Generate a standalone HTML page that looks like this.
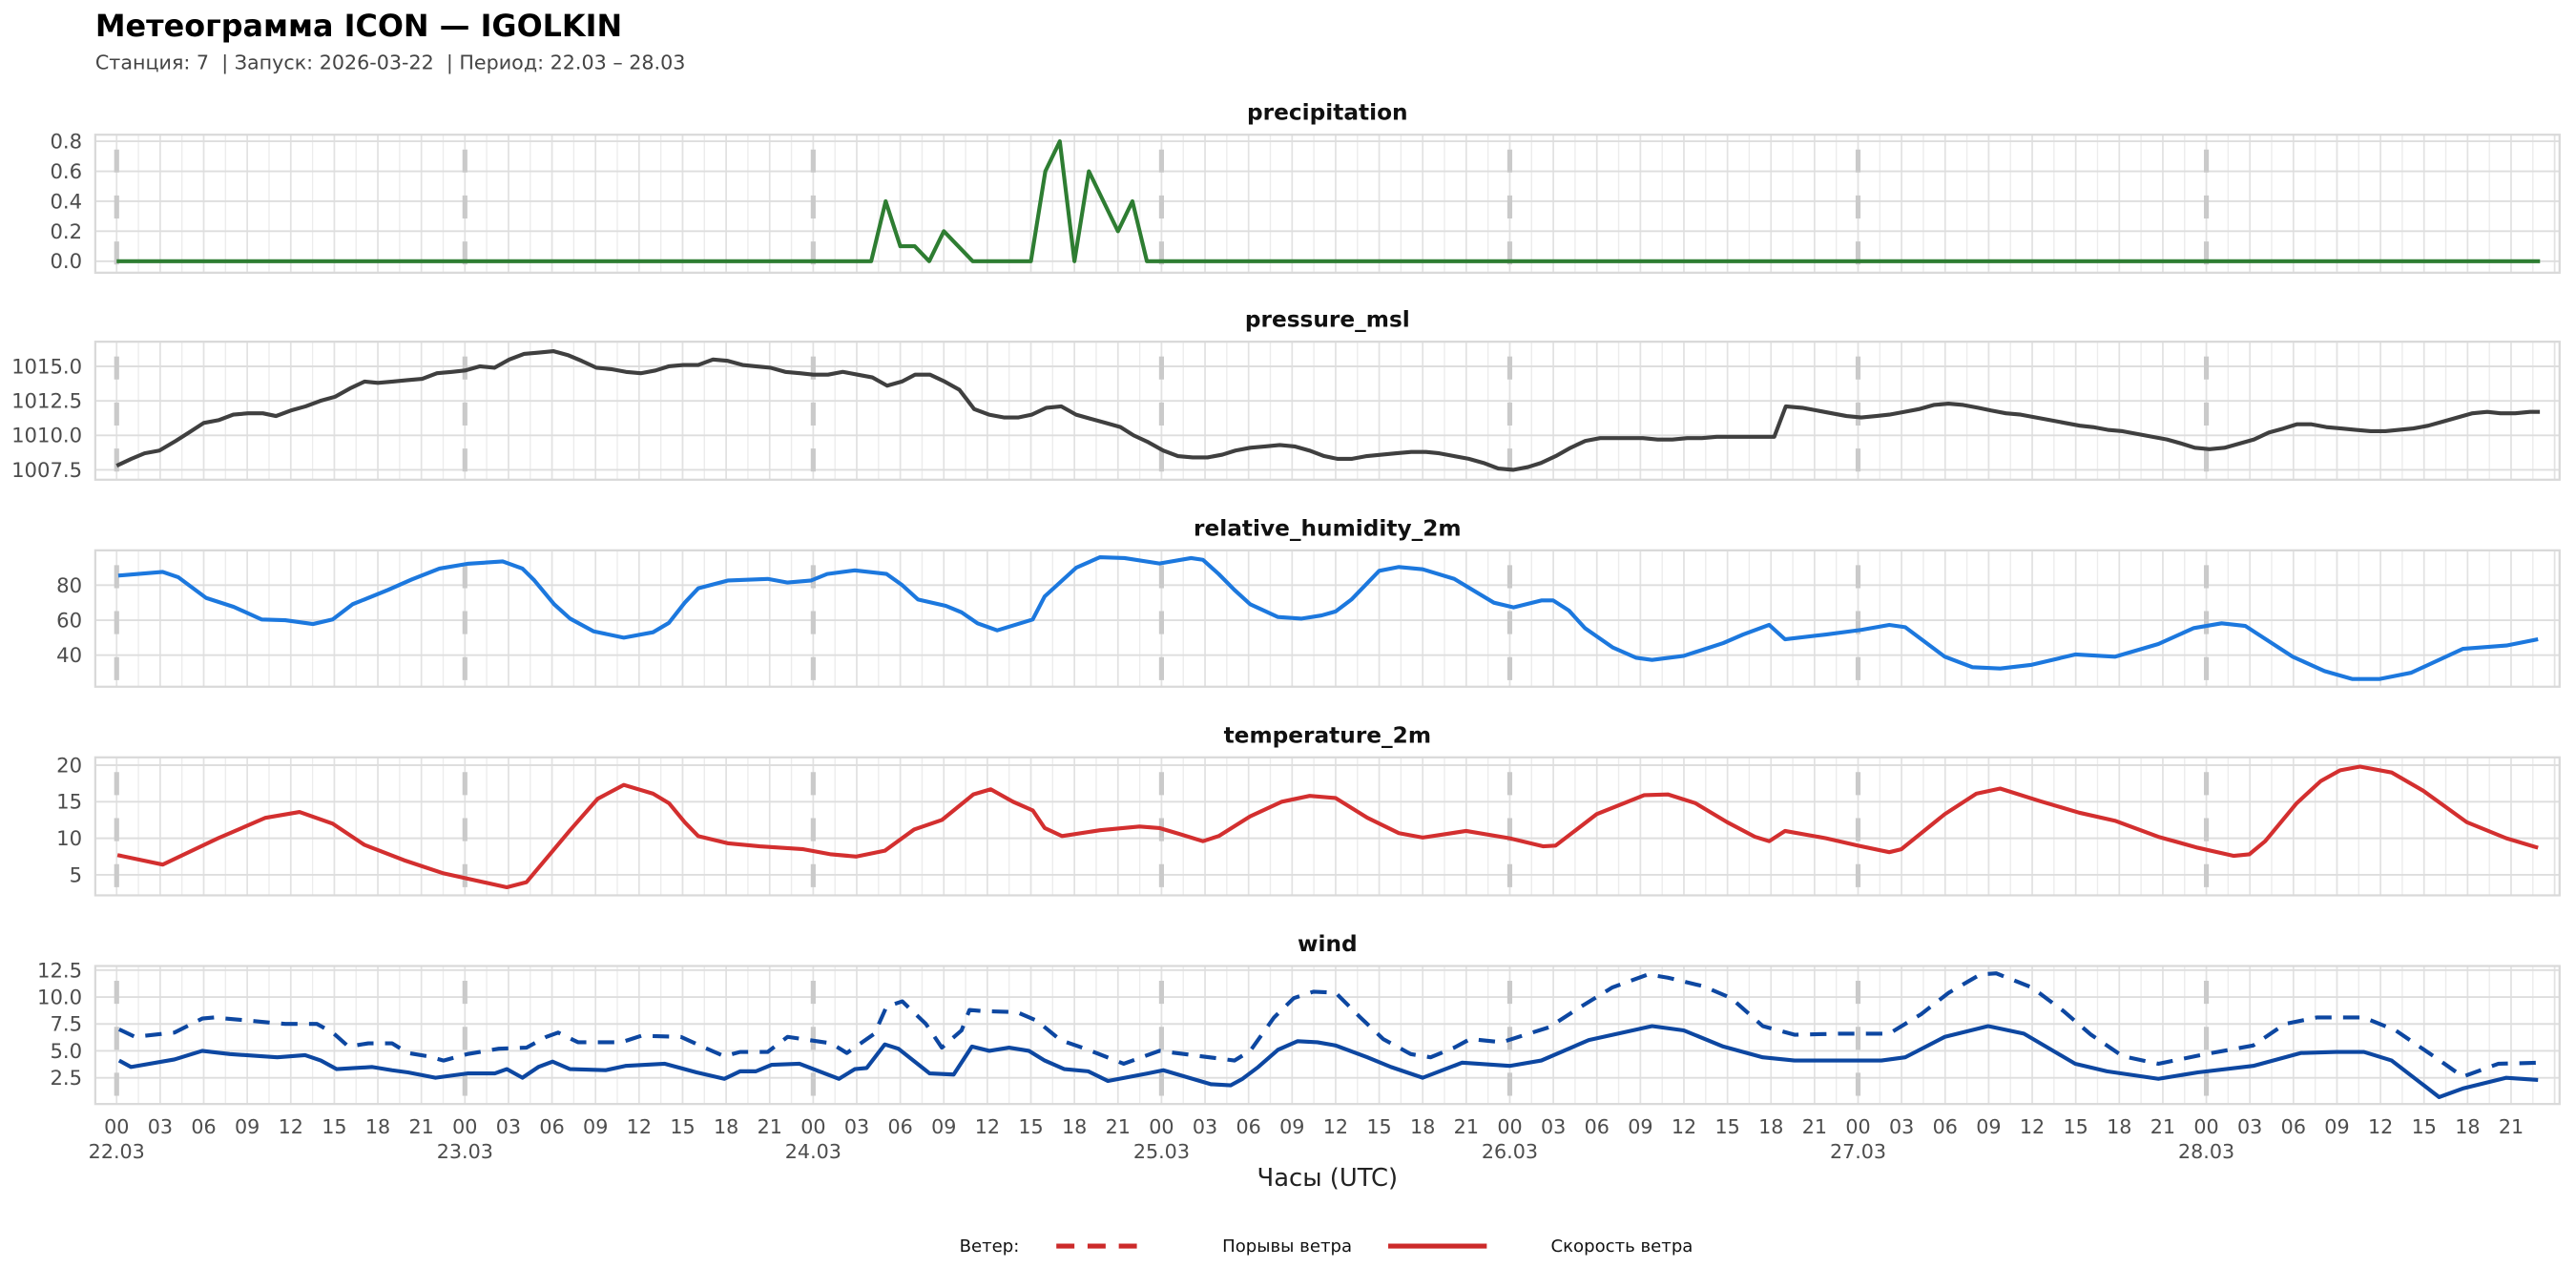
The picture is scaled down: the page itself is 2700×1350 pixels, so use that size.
<!DOCTYPE html>
<html><head><meta charset="utf-8">
<style>
html,body{margin:0;padding:0;background:#fff;}
svg{display:block;}
text{font-family:"DejaVu Sans","Liberation Sans",sans-serif;white-space:pre;}
</style></head>
<body>
<svg id="s" width="2700" height="1350" viewBox="0 0 1568 784" xmlns="http://www.w3.org/2000/svg">
<rect width="1568" height="784" fill="#fff"/>
<text x="58" y="22" font-size="18.5" font-weight="bold" fill="#000">Метеограмма ICON — IGOLKIN</text>
<text x="58" y="42" font-size="12" fill="#444" xml:space="preserve">Станция: 7  | Запуск: 2026-03-22  | Период: 22.03 – 28.03</text>
<g id="g"></g>
<text x="808" y="722" font-size="15" text-anchor="middle" fill="#222">Часы (UTC)</text>
<text x="584" y="762" font-size="10.5" fill="#111">Ветер:</text>
<line x1="643" y1="758.5" x2="700" y2="758.5" stroke="#cc2a2a" stroke-width="3" stroke-dasharray="11,8"/>
<text x="744" y="762" font-size="10.5" fill="#111">Порывы ветра</text>
<line x1="845" y1="758.5" x2="905" y2="758.5" stroke="#cc2a2a" stroke-width="3"/>
<text x="944" y="762" font-size="10.5" fill="#111">Скорость ветра</text>
</svg>
<script>
const NS="http://www.w3.org/2000/svg";
const g=document.getElementById('g');
function el(t,a,txt){const e=document.createElementNS(NS,t);for(const k in a)e.setAttribute(k,a[k]);if(txt!==undefined)e.textContent=txt;g.appendChild(e);return e;}
const L=58,R=1558,X0=71,DAY=212;
function panel(title,top,bot,fy,ticks,fmt,series){
  el('text',{x:808,y:top-9,'font-size':13.5,'font-weight':'bold','text-anchor':'middle',fill:'#111'},title);
  for(let x=X0-13.25;x<=R;x+=13.25){ if(x<L)continue; el('line',{x1:x,y1:top,x2:x,y2:bot,stroke:'#ececec','stroke-width':0.8});}
  for(let x=X0;x<=R;x+=26.5){el('line',{x1:x,y1:top,x2:x,y2:bot,stroke:'#e2e2e2','stroke-width':1});}
  ticks.forEach(v=>{const y=fy(v);el('line',{x1:L,y1:y,x2:R,y2:y,stroke:'#dedede','stroke-width':1.1});
    el('text',{x:50,y:y+4.3,'font-size':12.3,'text-anchor':'end',fill:'#4d4d4d'},fmt(v));});
  el('rect',{x:L,y:top,width:R-L,height:bot-top,fill:'none',stroke:'#d9d9d9','stroke-width':1.3});
  for(let d=0;d<7;d++){const x=X0+d*DAY;el('line',{x1:x,y1:top+9,x2:x,y2:bot,stroke:'#cacaca','stroke-width':3,'stroke-dasharray':'14,14'});}
  series.forEach(s=>{
    let d='';for(let i=0;i<s.p.length;i+=2){d+=(i?'L':'M')+s.p[i]+' '+fy(s.p[i+1]).toFixed(2)+' ';}
    const a={d:d,fill:'none',stroke:s.c,'stroke-width':2.4,'stroke-linejoin':'round'};
    if(s.dash)a['stroke-dasharray']=s.dash;
    el('path',a);
  });
}
function hx(h){return X0+h*8.833;}
let pr=[];
const pts=[[0,0],[52,0],[53,0.4],[54,0.1],[55,0.1],[56,0],[57,0.2],[59,0],[63,0],[64,0.6],[65,0.8],[66,0],[67,0.6],[69,0.2],[70,0.4],[71,0],[167,0]];
pts.forEach(p=>{pr.push(+hx(p[0]).toFixed(1),p[1]);});
panel('precipitation',82,166,v=>159-v*91.25,[0,0.2,0.4,0.6,0.8],v=>v.toFixed(1),[{c:'#2e7d32',p:pr}]);
const pres=[71,1007.8,80,1008.3,88,1008.7,97,1008.9,107,1009.6,115,1010.2,124,1010.9,133,1011.1,142,1011.5,151,1011.6,160,1011.6,168,1011.4,177,1011.8,186,1012.1,195,1012.5,204,1012.8,213,1013.4,222,1013.9,230,1013.8,239,1013.9,248,1014.0,257,1014.1,266,1014.5,275,1014.6,283,1014.7,292,1015.0,301,1014.9,310,1015.5,319,1015.9,328,1016.0,337,1016.1,346,1015.8,354,1015.4,363,1014.9,372,1014.8,381,1014.6,390,1014.5,399,1014.7,407,1015.0,416,1015.1,425,1015.1,434,1015.5,443,1015.4,452,1015.1,460,1015.0,469,1014.9,478,1014.6,487,1014.5,495,1014.4,504,1014.4,513,1014.6,522,1014.4,531,1014.2,540,1013.6,549,1013.9,557,1014.4,566,1014.4,575,1013.9,584,1013.3,593,1011.9,602,1011.5,611,1011.3,620,1011.3,628,1011.5,637,1012.0,646,1012.1,655,1011.5,664,1011.2,673,1010.9,682,1010.6,690,1010.0,699,1009.5,708,1008.9,717,1008.5,726,1008.4,735,1008.4,744,1008.6,752,1008.9,761,1009.1,770,1009.2,779,1009.3,788,1009.2,797,1008.9,806,1008.5,814,1008.3,823,1008.3,832,1008.5,841,1008.6,850,1008.7,859,1008.8,868,1008.8,876,1008.7,885,1008.5,894,1008.3,903,1008.0,912,1007.6,921,1007.5,930,1007.7,938,1008.0,947,1008.5,956,1009.1,965,1009.6,974,1009.8,983,1009.8,991,1009.8,1000,1009.8,1009,1009.7,1018,1009.7,1027,1009.8,1036,1009.8,1045,1009.9,1053,1009.9,1062,1009.9,1071,1009.9,1080,1009.9,1087,1012.1,1097,1012.0,1106,1011.8,1115,1011.6,1124,1011.4,1133,1011.3,1142,1011.4,1150,1011.5,1159,1011.7,1168,1011.9,1177,1012.2,1186,1012.3,1195,1012.2,1204,1012.0,1212,1011.8,1221,1011.6,1230,1011.5,1239,1011.3,1248,1011.1,1257,1010.9,1266,1010.7,1274,1010.6,1283,1010.4,1292,1010.3,1301,1010.1,1310,1009.9,1319,1009.7,1328,1009.4,1336,1009.1,1345,1009.0,1354,1009.1,1363,1009.4,1372,1009.7,1381,1010.2,1390,1010.5,1398,1010.8,1407,1010.8,1416,1010.6,1425,1010.5,1434,1010.4,1443,1010.3,1452,1010.3,1460,1010.4,1469,1010.5,1478,1010.7,1487,1011.0,1496,1011.3,1505,1011.6,1514,1011.7,1522,1011.6,1531,1011.6,1540,1011.7,1546,1011.7];
panel('pressure_msl',208,292,v=>223-(v-1015)*8.4,[1007.5,1010,1012.5,1015],v=>v.toFixed(1),[{c:'#3f3f3f',p:pres}]);
const hum=[72,85.5,85,86.5,99,87.6,108.6,84.5,125.5,72.7,142.3,67.6,159.2,60.4,173.6,60,190.5,57.8,202.5,60.4,214.6,69.1,236.2,77.3,250.7,83.3,267.5,89.5,284.4,92.2,306,93.6,318,89.5,325.3,82.7,337.3,69.1,347,60.9,361.4,53.6,379.7,50,397.5,53.1,407.2,58.5,416.8,70,425,78.2,443.3,82.7,467.3,83.6,479.4,81.5,493.8,82.7,503.5,86.4,520.3,88.5,539.6,86.4,549.2,80,558.8,71.8,575.7,68.2,585.3,64.5,595,58.2,607,54.2,628.6,60.4,635.9,73.6,655.1,90,669.6,96,684.5,95.5,705.7,92.4,725,95.5,732.2,94.5,741.8,86.4,751.4,77.3,761,69.1,777.9,61.8,792.3,60.9,804.4,62.7,813,65,822.6,71.8,839.5,88.2,851.5,90.4,866,89.1,885.2,83.6,909.3,70,921.3,67.3,938.2,71.3,945.4,71.3,955,65.5,964.7,55.5,981.5,44.5,996,38.5,1005.6,37.3,1024.9,39.6,1048.9,46.9,1061,51.8,1076.9,57.3,1086.5,49.1,1111.5,51.8,1133.2,54.5,1150,57.3,1159.7,56,1183.8,39.1,1200.6,33.1,1217.5,32.4,1236.7,34.5,1263.2,40.4,1287.3,39.1,1313.8,46.4,1335.4,55.5,1352.3,58.2,1366.7,56.7,1395.6,39.1,1414.9,30.9,1431.7,26.4,1448.6,26.4,1467.8,30,1499.1,43.6,1525.6,45.5,1544.9,49.1];
panel('relative_humidity_2m',335,418,v=>356.2-(v-80)*1.065,[40,60,80],v=>String(v),[{c:'#1c78de',p:hum}]);
const tem=[71.5,7.7,99,6.4,132.7,10,161.6,12.8,182.3,13.6,202.5,12,221.8,9.1,245.9,7.0,270,5.2,308.5,3.3,320.5,4.0,347,11.1,363.8,15.4,379.7,17.3,397.5,16.1,407.2,14.8,416.8,12.2,425,10.3,443.3,9.3,462.5,8.9,489,8.5,505.9,7.8,521.3,7.5,538.6,8.3,556.4,11.2,573.3,12.5,592.5,16.0,603.1,16.7,616.6,15.0,628.7,13.8,635.9,11.4,646.5,10.3,669.6,11.1,693.6,11.6,705.7,11.4,717.7,10.6,732.2,9.6,741.8,10.3,761,13.0,780.3,15.0,797.2,15.8,813,15.5,832.3,12.8,851.5,10.7,866,10.1,892.4,11.0,918.9,10,939.2,8.9,946.9,9.0,971.9,13.3,1000.8,15.9,1015.2,16.0,1032,14.8,1051.3,12.2,1068.2,10.2,1076.9,9.6,1086.5,11.0,1111.5,10,1130.8,9.0,1150,8.1,1157.3,8.5,1183.8,13.3,1203,16.1,1217.5,16.8,1241.5,15.1,1265.6,13.5,1287.3,12.4,1313.8,10.2,1337.8,8.7,1359.5,7.6,1369.1,7.8,1378.8,9.6,1398,14.8,1412.5,17.8,1424.5,19.3,1436.5,19.8,1455.8,19.0,1475,16.5,1501.5,12.2,1525.6,10,1544.9,8.7];
panel('temperature_2m',461,545,v=>488-(v-15)*4.45,[5,10,15,20],v=>String(v),[{c:'#d32f2f',p:tem}]);
const gust=[72.5,7.0,82.2,6.3,106.2,6.7,123.1,8.0,130.3,8.1,173.6,7.5,192.9,7.5,202.5,6.7,212.1,5.4,224.2,5.7,238.6,5.7,248.3,4.8,260.3,4.5,270,4.1,284.4,4.7,303.6,5.2,320.5,5.3,332.5,6.3,339.7,6.7,351.8,5.8,378.3,5.8,390.3,6.4,414.4,6.3,428.8,5.3,440.9,4.5,450.5,4.9,467.3,4.9,479.4,6.3,505.9,5.7,515.5,4.8,532.3,6.6,539.6,9.1,549.2,9.6,563.6,7.5,573.3,5.3,585.3,6.9,590.1,8.8,597.3,8.7,619,8.6,631.1,7.8,645.5,6.0,662.4,5.1,684,3.8,705.7,5.0,751.4,4.1,761,5.0,775.5,8.1,787.5,9.9,799.5,10.5,813,10.4,827.4,8.2,841.9,6.1,858.7,4.7,870.8,4.4,885.2,5.3,894.9,6.1,914.1,5.8,943,7.2,962.3,9.1,981.5,10.9,1003.2,12.1,1015.2,11.8,1036.9,11.0,1053.8,9.9,1073,7.3,1092.3,6.5,1121.2,6.6,1150,6.6,1169.3,8.4,1186.2,10.4,1205.4,12.1,1215.1,12.2,1236.7,10.9,1256,8.7,1272.8,6.5,1292.1,4.5,1313.8,3.8,1342.6,4.7,1371.5,5.5,1390.8,7.5,1410.1,8.1,1438.9,8.1,1458.2,6.9,1482.3,4.4,1499.1,2.6,1520.8,3.8,1544.9,3.9];
const spd=[72.5,4.1,79.7,3.5,106.2,4.2,123.1,5.0,139.9,4.7,168.8,4.4,185.7,4.6,195.3,4.1,204.9,3.3,226.6,3.5,238.6,3.2,248.3,3.0,265.1,2.5,284.4,2.9,301.2,2.9,308.5,3.3,318,2.5,327.7,3.5,336.4,4.0,347,3.3,368.6,3.2,380.7,3.6,404.7,3.8,424,3.0,440.9,2.4,450.5,3.1,460.1,3.1,469.7,3.7,486.6,3.8,510.7,2.4,520.3,3.3,527.5,3.4,538.6,5.6,546.8,5.2,565.9,2.9,580.5,2.8,591.6,5.4,602.2,5.0,614.2,5.3,626.3,5.0,635.9,4.1,647.9,3.3,662.4,3.1,674.4,2.2,698.5,2.9,708.1,3.2,737,1.9,749.1,1.8,756.3,2.4,765.9,3.5,777.9,5.1,789.9,5.9,801.9,5.8,813,5.5,832.3,4.4,846.7,3.5,866,2.5,890,3.9,918.9,3.6,938.2,4.1,967.1,6.0,1005.6,7.3,1024.9,6.9,1048.9,5.4,1073,4.4,1092.3,4.1,1145.2,4.1,1159.7,4.4,1183.8,6.3,1210.2,7.3,1231.9,6.6,1263.2,3.8,1282.5,3.1,1313.8,2.4,1337.8,3.0,1371.5,3.6,1400.4,4.8,1422.1,4.9,1438.9,4.9,1455.8,4.1,1484.7,0.7,1499.1,1.5,1525.6,2.5,1544.9,2.3];
panel('wind',588,672,v=>606.9-(v-10)*6.55,[2.5,5,7.5,10,12.5],v=>v.toFixed(1),[{c:'#0d47a1',p:gust,dash:'10,7'},{c:'#0d47a1',p:spd}]);
const hrs=['00','03','06','09','12','15','18','21'];
for(let d=0;d<7;d++){for(let i=0;i<8;i++){const x=X0+d*DAY+i*26.5;el('text',{x:x,y:690,'font-size':12,'text-anchor':'middle',fill:'#4d4d4d'},hrs[i]);}
  el('text',{x:X0+d*DAY,y:705,'font-size':12,'text-anchor':'middle',fill:'#4d4d4d'},(22+d)+'.03');}
</script>
</body></html>
